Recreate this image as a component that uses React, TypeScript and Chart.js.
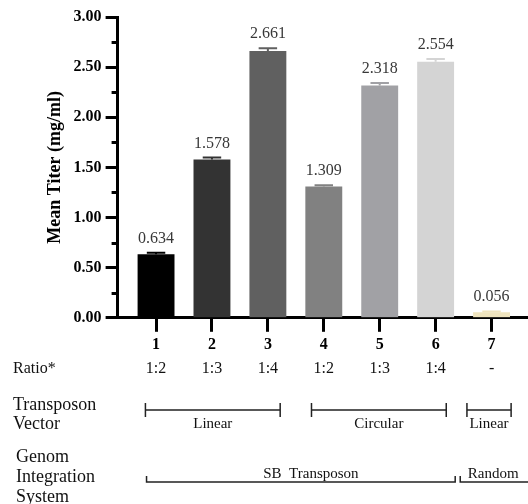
import React, { useEffect, useRef } from 'react';
import { Chart, registerables } from 'chart.js';

Chart.register(...registerables);

const categories = [1, 2, 3, 4, 5, 6, 7];
const categoryLabels = ['1', '2', '3', '4', '5', '6', '7'];
const meanTiter = [0.634, 1.578, 2.661, 1.309, 2.318, 2.554, 0.056];
const errors = [0.015, 0.02, 0.027, 0.012, 0.025, 0.028, 0.008];
const ratios = ['1:2', '1:3', '1:4', '1:2', '1:3', '1:4', '-'];
const barColors = ['#000000', '#333333', '#606060', '#818181', '#a1a1a5', '#d4d4d4', '#efe4bd'];
const yTicks = [0, 0.5, 1, 1.5, 2, 2.5, 3];
const yMinorTicks = [0.25, 0.75, 1.25, 1.75, 2.25, 2.75];
const ratioRowLabel = 'Ratio*';
const vectorRowLabel = ['Transposon', 'Vector'];
const systemRowLabel = ['Genom', 'Integration', 'System'];
const vectorGroups = [
  { label: 'Linear', from: 0.81, to: 3.22 },
  { label: 'Circular', from: 3.78, to: 6.19 },
  { label: 'Linear', from: 6.56, to: 7.35 },
];
const systemGroups = [
  { label: 'SB  Transposon', from: 0.83, to: 6.35, labelAt: 3.77 },
  { label: 'Random', from: 6.44, to: 7.7, labelAt: 7.03 },
];

const SERIF = '"Liberation Serif", "Times New Roman", serif';

const annotPlugin = {
  id: 'annot',
  afterDatasetsDraw(chart: any) {
    const { ctx, scales, chartArea } = chart;
    const y = scales.y;
    const meta = chart.getDatasetMeta(0);
    ctx.save();
    meta.data.forEach((bar: any, i: number) => {
      const top = y.getPixelForValue(meanTiter[i] + errors[i]);
      const base = y.getPixelForValue(meanTiter[i]);
      const cx = bar.x;
      const half = bar.width / 4;
      ctx.strokeStyle = barColors[i];
      ctx.lineWidth = 2;
      ctx.beginPath();
      ctx.moveTo(cx, base);
      ctx.lineTo(cx, top);
      ctx.moveTo(cx - half, top);
      ctx.lineTo(cx + half, top);
      ctx.stroke();
      ctx.fillStyle = '#383838';
      ctx.font = '16px ' + SERIF;
      ctx.textAlign = 'center';
      ctx.textBaseline = 'alphabetic';
      ctx.fillText(meanTiter[i].toFixed(3), cx, top - 10);
    });
    // minor y ticks
    ctx.strokeStyle = '#000';
    ctx.lineWidth = 3;
    yMinorTicks.forEach((v) => {
      const py = Math.round(y.getPixelForValue(v)) + 0.5;
      ctx.beginPath();
      ctx.moveTo(chartArea.left - 6, py);
      ctx.lineTo(chartArea.left, py);
      ctx.stroke();
    });
    ctx.restore();
  },
  afterDraw(chart: any) {
    const { ctx, scales } = chart;
    const x = scales.x;
    ctx.save();
    ctx.fillStyle = '#111';
    ctx.textBaseline = 'alphabetic';
    // Ratio row
    ctx.font = '16px ' + SERIF;
    ctx.textAlign = 'left';
    ctx.fillText(ratioRowLabel, 13, 373);
    ctx.textAlign = 'center';
    ratios.forEach((r, i) => {
      ctx.fillText(r, x.getPixelForValue(categories[i]), 373);
    });
    // Transposon vector row
    ctx.font = '18px ' + SERIF;
    ctx.textAlign = 'left';
    ctx.fillText(vectorRowLabel[0], 13, 410);
    ctx.fillText(vectorRowLabel[1], 13, 429);
    ctx.strokeStyle = '#222';
    ctx.lineWidth = 1.5;
    vectorGroups.forEach((g) => {
      const x1 = x.getPixelForValue(g.from);
      const x2 = x.getPixelForValue(g.to);
      ctx.beginPath();
      ctx.moveTo(x1, 410);
      ctx.lineTo(x2, 410);
      ctx.moveTo(x1, 403);
      ctx.lineTo(x1, 417);
      ctx.moveTo(x2, 403);
      ctx.lineTo(x2, 417);
      ctx.stroke();
      ctx.font = '15px ' + SERIF;
      ctx.textAlign = 'center';
      ctx.fillText(g.label, (x1 + x2) / 2, 428);
    });
    // Genom integration system row
    ctx.font = '18px ' + SERIF;
    ctx.textAlign = 'left';
    ctx.fillText(systemRowLabel[0], 16, 462);
    ctx.fillText(systemRowLabel[1], 16, 482);
    ctx.fillText(systemRowLabel[2], 16, 502);
    systemGroups.forEach((g) => {
      const x1 = x.getPixelForValue(g.from);
      const x2 = x.getPixelForValue(g.to);
      ctx.beginPath();
      ctx.moveTo(x1, 476);
      ctx.lineTo(x1, 482);
      ctx.lineTo(x2, 482);
      ctx.lineTo(x2, 476);
      ctx.stroke();
      ctx.font = '15px ' + SERIF;
      ctx.textAlign = 'center';
      ctx.fillText(g.label, x.getPixelForValue(g.labelAt), 478);
    });
    ctx.restore();
  },
};

export default function App() {
  const ref = useRef<HTMLCanvasElement | null>(null);
  useEffect(() => {
    if (!ref.current) return;
    const chart = new Chart(ref.current, {
      type: 'bar',
      data: {
        datasets: [
          {
            data: categories.map((c, i) => ({ x: c, y: meanTiter[i] })),
            backgroundColor: barColors,
            borderWidth: 0,
            barPercentage: 0.66,
            categoryPercentage: 1,
          },
        ],
      },
      options: {
        responsive: false,
        animation: false,
        devicePixelRatio: 1,
        layout: { padding: { left: 45, top: 17, right: 0, bottom: 147 } },
        plugins: { legend: { display: false }, tooltip: { enabled: false } },
        scales: {
          x: {
            type: 'linear',
            min: 0.3125,
            max: 7.652,
            offset: false,
            afterBuildTicks: (s: any) => {
              s.ticks = categories.map((v) => ({ value: v }));
            },
            ticks: {
              callback: (v: any) => {
                const idx = categories.indexOf(Number(v));
                return idx >= 0 ? categoryLabels[idx] : '';
              },
              font: { family: SERIF, size: 16, weight: 'bold' },
              color: '#000',
              padding: 3,
              maxRotation: 0,
              autoSkip: false,
            },
            grid: { offset: false, drawOnChartArea: false, tickLength: 14, tickWidth: 3, tickColor: '#000' },
            border: { color: '#000', width: 3 },
          },
          y: {
            min: 0,
            max: 3,
            afterBuildTicks: (s: any) => {
              s.ticks = yTicks.map((v) => ({ value: v }));
            },
            ticks: {
              callback: (v: any) => Number(v).toFixed(2),
              font: { family: SERIF, size: 16, weight: 'bold' },
              color: '#000',
              padding: 4,
            },
            grid: { drawOnChartArea: false, tickLength: 12, tickWidth: 3, tickColor: '#000' },
            border: { color: '#000', width: 3 },
            title: {
              display: true,
              text: 'Mean Titer (mg/ml)',
              font: { family: SERIF, size: 18, weight: 'bold' },
              color: '#000',
              padding: { top: 0, bottom: 3 },
            },
          },
        },
      } as any,
      plugins: [annotPlugin],
    });
    return () => chart.destroy();
  }, []);
  return (
    <div style={{ position: 'absolute', left: 0, top: 0, width: 528, height: 504, background: '#fff' }}>
      <canvas ref={ref} width={528} height={504} style={{ display: 'block', width: 528, height: 504 }} />
    </div>
  );
}
